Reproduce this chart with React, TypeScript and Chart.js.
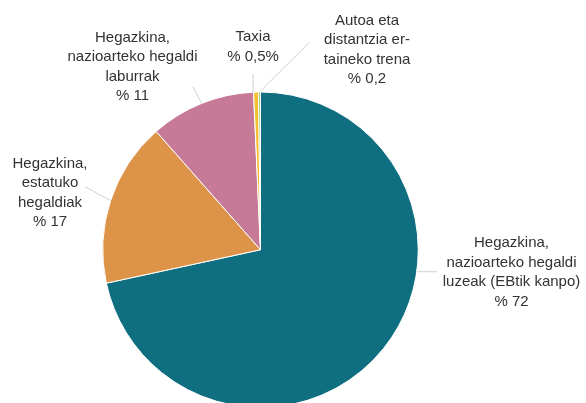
import React, { useEffect, useRef } from "react";
import { Chart, ArcElement, PieController } from "chart.js";

Chart.register(ArcElement, PieController);

const categories: string[][] = [
  ["Hegazkina,", "nazioarteko hegaldi", "luzeak (EBtik kanpo)"],
  ["Hegazkina,", "estatuko", "hegaldiak"],
  ["Hegazkina,", "nazioarteko hegaldi", "laburrak"],
  ["Taxia"],
  ["Autoa eta", "distantzia er-", "taineko trena"],
];
const values = [71.6, 16.9, 10.8, 0.5, 0.2];
const valueLabels = ["% 72", "% 17", "% 11", "% 0,5%", "% 0,2"];
const colors = ["#0f6e80", "#dd9348", "#c67a98", "#f6bf33", "#9cc46e"];

// label layout relative to pie centre: anchor angle (deg clockwise from top, null = slice middle),
// connector end offset, text block centre offset
const labelLayout = [
  { anchor: 98, end: [176.5, 22], text: [251, 22.5] },
  { anchor: null, end: [-175.5, -63], text: [-210.5, -57] },
  { anchor: null, end: [-67.5, -163], text: [-128, -183] },
  { anchor: 357.3, end: [-7.4, -176], text: [-7.5, -203] },
  { anchor: null, end: [49.5, -208], text: [106.5, -200] },
];

const labelPlugin = {
  id: "outsideLabels",
  afterDraw(chart: any) {
    const ctx = chart.ctx;
    const meta = chart.getDatasetMeta(0);
    ctx.save();
    meta.data.forEach((arc: any, i: number) => {
      const p = arc.getProps(["x", "y", "startAngle", "endAngle", "outerRadius"], true);
      const lay = labelLayout[i];
      const a = lay.anchor == null ? (p.startAngle + p.endAngle) / 2 : ((lay.anchor - 90) * Math.PI) / 180;
      const sx = p.x + p.outerRadius * Math.cos(a);
      const sy = p.y + p.outerRadius * Math.sin(a);
      ctx.strokeStyle = "#d0d0d0";
      ctx.lineWidth = 1;
      ctx.beginPath();
      ctx.moveTo(sx, sy);
      ctx.lineTo(p.x + lay.end[0], p.y + lay.end[1]);
      ctx.stroke();
      const lines = [...categories[i], valueLabels[i]];
      const lh = 19.5;
      const tx = p.x + lay.text[0];
      const ty = p.y + lay.text[1] - ((lines.length - 1) * lh) / 2;
      ctx.fillStyle = "#333333";
      ctx.font = '15px "Liberation Sans", Arial, sans-serif';
      ctx.textAlign = "center";
      ctx.textBaseline = "middle";
      lines.forEach((l, k) => ctx.fillText(l, tx, ty + k * lh));
    });
    ctx.restore();
  },
};

export default function App() {
  const ref = useRef<HTMLCanvasElement>(null);
  useEffect(() => {
    if (!ref.current) return;
    const chart = new Chart(ref.current, {
      type: "pie",
      data: {
        labels: categories.map((c) => c.join(" ")),
        datasets: [
          {
            data: values,
            backgroundColor: colors,
            borderColor: "#ffffff",
            borderWidth: 1,
          },
        ],
      },
      options: {
        animation: false,
        responsive: false,
        layout: { padding: { left: 102, right: 167, top: 91.5, bottom: 12 } },
        plugins: { legend: { display: false }, tooltip: { enabled: false } },
      },
      plugins: [labelPlugin],
    });
    return () => chart.destroy();
  }, []);
  return (
    <div style={{ position: "fixed", left: 0, top: 0, width: 586, height: 403, overflow: "hidden", background: "#fff" }}>
      <canvas ref={ref} width={586} height={420} style={{ display: "block" }} />
    </div>
  );
}
